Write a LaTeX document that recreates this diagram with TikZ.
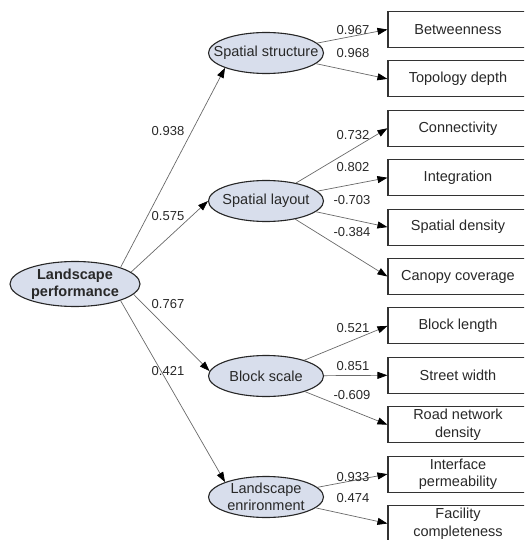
\documentclass[tikz,border=0pt]{standalone}
\usepackage{fontspec}
\setmainfont{Liberation Sans}
\usetikzlibrary{arrows.meta, shapes.geometric}

\definecolor{latfill}{RGB}{216,222,236}
\definecolor{linkgray}{RGB}{105,105,105}
\definecolor{txtgray}{RGB}{40,40,40}

\begin{document}
\begin{tikzpicture}[
    x=1pt, y=-1pt,
    font=\fontsize{14.5}{17.5}\selectfont,
    latent/.style = {ellipse, draw=black!85, line width=1.1pt, fill=latfill,
                     minimum width=115pt, minimum height=41pt,
                     inner xsep=-30pt, inner ysep=-12pt, align=center, text=txtgray},
    root/.style   = {latent, minimum width=130pt, minimum height=45pt,
                     font=\fontsize{14.5}{17}\selectfont\bfseries},
    obs/.style    = {rectangle, draw=black!80, line width=1.1pt, minimum width=140pt,
                     minimum height=36pt, inner sep=0pt, align=center, text=txtgray},
    load/.style   = {-{Triangle[length=10pt, width=7pt, black]}, line width=0.7pt, linkgray},
    coef/.style   = {font=\fontsize{13}{13}\selectfont, text=txtgray, inner sep=1pt}
  ]
  \useasboundingbox (0,0) rectangle (524,540);
  \clip (0,0) rectangle (524,540);

  % --- latent variables ---
  \node[root]   (LP) at (75,284)  {Landscape\\performance};
  \node[latent] (SS) at (266,53)  {Spatial structure};
  \node[latent] (SL) at (266,201) {Spatial layout};
  \node[latent] (BS) at (266,376) {Block scale};
  \node[latent] (LE) at (266,497) {Landscape\\enrironment};

  % --- indicators ---
  \foreach \nm/\txt [count=\i from 0] in {bet/Betweenness, top/Topology depth,
      con/Connectivity, int/Integration, den/Spatial density, can/Canopy coverage,
      len/Block length, wid/Street width, rnd/{Road network\\density},
      per/{Interface\\permeability}, fac/{Facility\\completeness}}
    \node[obs] (\nm) at (458,29.5+49.4*\i) {\txt};

  % --- structural paths ---
  \draw[load] (LP.20)  -- (SS.200);
  \draw[load] (LP.12)  -- (SL.west);
  \draw[load] (LP.-10) -- (BS.175);
  \draw[load] (LP.-20) -- (LE.160);

  % --- measurement paths ---
  \draw[load] (SS) -- (bet.west);
  \draw[load] (SS) -- (top.west);
  \draw[load] (SL) -- (con.west);
  \draw[load] (SL) -- (int.west);
  \draw[load] (SL) -- (den.west);
  \draw[load] (SL) -- (can.west);
  \draw[load] (BS) -- (len.west);
  \draw[load] (BS) -- (wid.west);
  \draw[load] (BS) -- (rnd.west);
  \draw[load] (LE) -- (per.west);
  \draw[load] (LE) -- (fac.west);

  % --- path coefficients ---
  \foreach \v/\x/\y [count=\k] in {0.938/168/131, 0.575/168/216, 0.767/168/304,
      0.421/168/371, 0.967/353/30, 0.968/353/53, 0.732/353/135, 0.802/353/167,
      -0.703/352/200, -0.384/352/232, 0.521/353/328, 0.851/353/366,
      -0.609/352/395, 0.933/353/477, 0.474/353/498}
    \node[coef] (w\k) at (\x,\y) {\v};

\end{tikzpicture}
\end{document}
